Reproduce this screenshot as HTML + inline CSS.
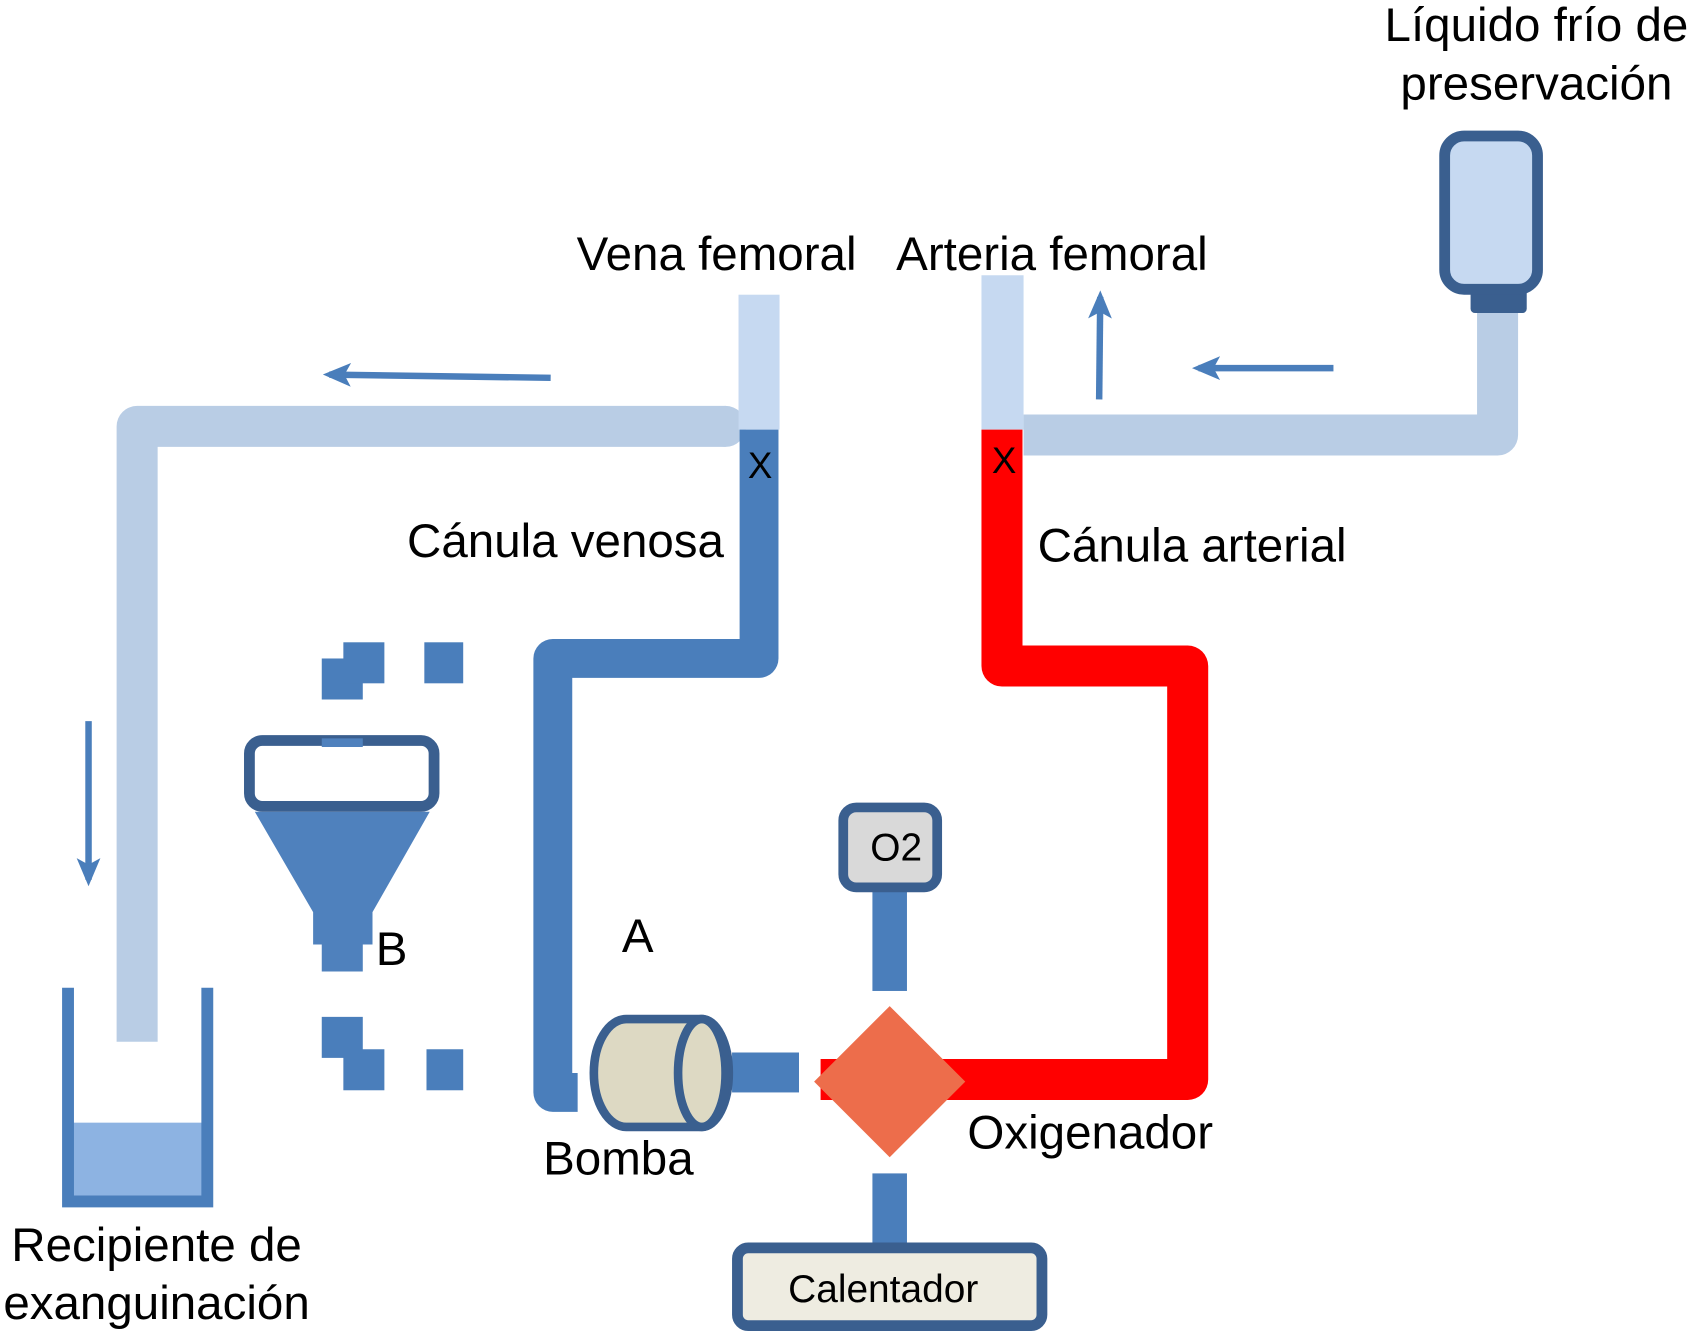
<!DOCTYPE html>
<html><head><meta charset="utf-8"><style>
html,body{margin:0;padding:0;background:#fff;}
svg{display:block;}
text{font-family:"Liberation Sans",Arial,sans-serif;fill:#000;}
</style></head><body>
<svg width="1693" height="1331" viewBox="0 0 1568 1233" preserveAspectRatio="none" xmlns="http://www.w3.org/2000/svg">
<defs>
<marker id="ah" markerWidth="26" markerHeight="22" refX="20" refY="11" orient="auto" markerUnits="userSpaceOnUse" viewBox="0 0 26 22"><path d="M0,0 L26,11 L0,22 L6,11 Z" fill="#4a7ebb"/></marker>
</defs>
<!-- light pipe left -->
<path d="M672,395 L127,395 L127,965" fill="none" stroke="#b9cde5" stroke-width="38" stroke-linejoin="round"/>
<circle cx="672" cy="395" r="19" fill="#b9cde5"/>
<!-- light pipe right -->
<path d="M948,403 L1387,403 L1387,285" fill="none" stroke="#b9cde5" stroke-width="38" stroke-linejoin="round"/>
<!-- vein tube -->
<rect x="684" y="273" width="38" height="125" fill="#c6d9f1"/>
<path d="M703,398 L703,610 L512,610 L512,1012 L535,1012" fill="none" stroke="#4a7ebb" stroke-width="36" stroke-linejoin="round"/>
<!-- artery tube -->
<rect x="909" y="255" width="39" height="143" fill="#c6d9f1"/>
<path d="M928,398 L928,617 L1100,617 L1100,1000 L760,1000" fill="none" stroke="#ff0000" stroke-width="38" stroke-linejoin="round"/>
<text x="704" y="443" font-size="34" text-anchor="middle">X</text>
<text x="930" y="438" font-size="34" text-anchor="middle">X</text>
<!-- bottle -->
<rect x="1362" y="262" width="52" height="28" rx="4" fill="#3a5f8f"/>
<rect x="1338" y="126" width="86" height="142" rx="18" fill="#c6d9f1" stroke="#3a5f8f" stroke-width="10"/>
<!-- arrows -->
<line x1="510" y1="350" x2="305" y2="347" stroke="#4a7ebb" stroke-width="6" marker-end="url(#ah)"/>
<line x1="1235" y1="341" x2="1110" y2="341" stroke="#4a7ebb" stroke-width="6" marker-end="url(#ah)"/>
<line x1="1018" y1="370" x2="1019" y2="275" stroke="#4a7ebb" stroke-width="6" marker-end="url(#ah)"/>
<line x1="82" y1="668" x2="82" y2="815" stroke="#4a7ebb" stroke-width="6" marker-end="url(#ah)"/>
<!-- recipient -->
<rect x="68" y="1040" width="120" height="70" fill="#8db3e2"/>
<path d="M63,915 L63,1113 L192,1113 L192,915" fill="none" stroke="#4a7ebb" stroke-width="11"/>
<!-- squares -->
<g fill="#4a7ebb">
<rect x="298" y="610" width="38" height="38"/><rect x="318" y="595" width="38" height="38"/><rect x="393" y="595" width="36" height="38"/>
<rect x="298" y="942" width="38" height="38"/><rect x="318" y="972" width="38" height="38"/><rect x="395" y="972" width="34" height="38"/>
</g>
<!-- funnel -->
<path d="M236,752 L398,752 L345,845 L345,875 L336,875 L336,900 L298,900 L298,875 L290,875 L290,845 Z" fill="#4f81bd"/>
<rect x="231" y="686" width="171" height="61" rx="12" fill="#fff" stroke="#3a5f8f" stroke-width="10"/>
<rect x="298" y="684" width="38" height="8" fill="#4f81bd"/>
<!-- pump -->
<rect x="678" y="975" width="62" height="37" fill="#4a7ebb"/>
<path d="M580,944 L650,944 A25,50 0 0 1 650,1044 L580,1044 A30,50 0 0 1 580,944 Z" fill="#ddd9c3" stroke="#3a5f8f" stroke-width="8"/>
<ellipse cx="650" cy="994" rx="22" ry="50" fill="#ddd9c3" stroke="#3a5f8f" stroke-width="8"/>
<!-- O2 -->
<rect x="808" y="822" width="32" height="96" fill="#4a7ebb"/>
<rect x="808" y="1087" width="32" height="70" fill="#4a7ebb"/>
<rect x="781" y="748" width="87" height="74" rx="12" fill="#d9d9d9" stroke="#3a5f8f" stroke-width="9"/>
<text x="830" y="797" font-size="36" text-anchor="middle">O2</text>
<!-- oxygenator -->
<path d="M824,932 L894,1002 L824,1072 L754,1002 Z" fill="#ed6d4b"/>
<!-- heater -->
<rect x="683" y="1156" width="282" height="72" rx="10" fill="#eeece1" stroke="#3a5f8f" stroke-width="10"/>
<text x="818" y="1206" font-size="36" text-anchor="middle">Calentador</text>
<!-- labels -->
<g font-size="44">
<text x="1423" y="38" text-anchor="middle">Líquido frío de</text>
<text x="1423" y="92" text-anchor="middle">preservación</text>
<text x="534" y="250">Vena femoral</text>
<text x="830" y="250">Arteria femoral</text>
<text x="377" y="516">Cánula venosa</text>
<text x="961" y="520">Cánula arterial</text>
<text x="576" y="882">A</text>
<text x="348" y="894">B</text>
<text x="503" y="1088">Bomba</text>
<text x="896" y="1064">Oxigenador</text>
<text x="145" y="1168" text-anchor="middle">Recipiente de</text>
<text x="145" y="1222" text-anchor="middle">exanguinación</text>
</g>
</svg>
</body></html>
